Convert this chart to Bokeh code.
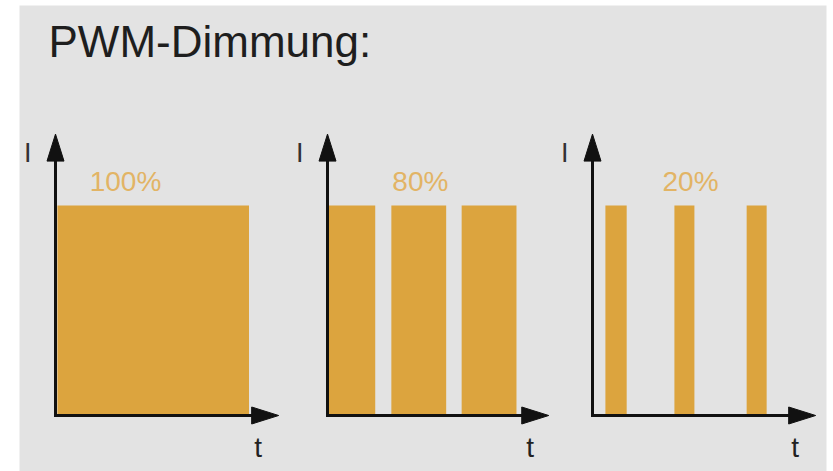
from bokeh.plotting import figure
from bokeh.models import Range1d
from bokeh.core.properties import value
from bokeh.embed import file_html
from bokeh.resources import INLINE

# ---------------- data ----------------
title_text = "PWM-Dimmung:"
duty_labels = ["100%", "80%", "20%"]
y_label = "I"
x_label = "t"
# pulse on / off times in each panel (time units, period = 1)
pulse_start = [[0.03], [0.02, 0.99, 2.08], [0.20, 1.27, 2.39]]
pulse_end = [[3.00], [0.74, 1.84, 2.93], [0.53, 1.58, 2.70]]
pulse_level = 1.0
label_pos = [1.085, 1.44, 1.52]
t_axis_end = [3.46, 3.43, 3.46]
i_axis_end = 1.34

# ---------------- layout / style ----------------
W, H = 833, 471
FL, FR, FT, FB = 19, 826, 5, 471          # frame edges (px)
PX_T, PX_I = 64.5, 210.0                  # px per unit
ORIGIN_X = [55, 327, 592]
ORIGIN_Y = 415
BAR = "#dca43e"
LBL = "#e2b465"
INK = "#111111"
FONT = value("Liberation Sans")

names = ["default", "p2", "p3"]
xr = [Range1d((FL - ox) / PX_T, (FR - ox) / PX_T) for ox in ORIGIN_X]
yr = Range1d(-(FB - ORIGIN_Y) / PX_I, (ORIGIN_Y - FT) / PX_I)

p = figure(width=W, height=H, x_range=xr[0], y_range=yr,
           x_axis_location=None, y_axis_location=None,
           toolbar_location=None, output_backend="svg",
           min_border_left=FL, min_border_right=W - FR,
           min_border_top=FT, min_border_bottom=H - FB)
p.extra_x_ranges = {"p2": xr[1], "p3": xr[2]}
p.background_fill_color = "#e3e3e3"
p.border_fill_color = "white"
p.outline_line_color = None
p.grid.visible = False

head_len, head_half = 27.0, 8.5

for k in range(3):
    rn = names[k]
    p.quad(left=pulse_start[k], right=pulse_end[k], bottom=0, top=pulse_level,
           fill_color=BAR, line_color=None, x_range_name=rn)
    te = t_axis_end[k]
    # axis lines
    p.segment(x0=[0, 0], y0=[0, 0],
              x1=[te - head_len * 0.5 / PX_T, 0],
              y1=[0, i_axis_end - head_len * 0.5 / PX_I],
              line_color=INK, line_width=3, line_cap="square", x_range_name=rn)
    # arrow heads
    p.patches(xs=[[te, te - head_len / PX_T, te - head_len / PX_T],
                  [0, -head_half / PX_T, head_half / PX_T]],
              ys=[[0, head_half / PX_I, -head_half / PX_I],
                  [i_axis_end, i_axis_end - head_len / PX_I, i_axis_end - head_len / PX_I]],
              fill_color=INK, line_color=INK, line_width=1, x_range_name=rn)
    # labels
    p.text(x=[label_pos[k]], y=[1.114], text=[duty_labels[k]],
           text_font=FONT, text_font_size=value("28px"), text_color=LBL,
           text_align="center", text_baseline="alphabetic", x_range_name=rn)
    p.text(x=[-0.43], y=[1.25], text=[y_label],
           text_font=FONT, text_font_size=value("27px"), text_color="#333333",
           text_align="center", text_baseline="alphabetic", x_range_name=rn)
    p.text(x=[3.14], y=[-0.152], text=[x_label],
           text_font=FONT, text_font_size=value("28px"), text_color="#222222",
           text_align="center", text_baseline="alphabetic", x_range_name=rn)

p.text(x=[(48 - ORIGIN_X[0]) / PX_T], y=[(ORIGIN_Y - 41) / PX_I], text=[title_text],
       text_font=FONT, text_font_size=value("44px"), text_color="#1e1e1e",
       text_align="left", text_baseline="alphabetic")

open("out.html", "w").write(file_html(p, INLINE))
